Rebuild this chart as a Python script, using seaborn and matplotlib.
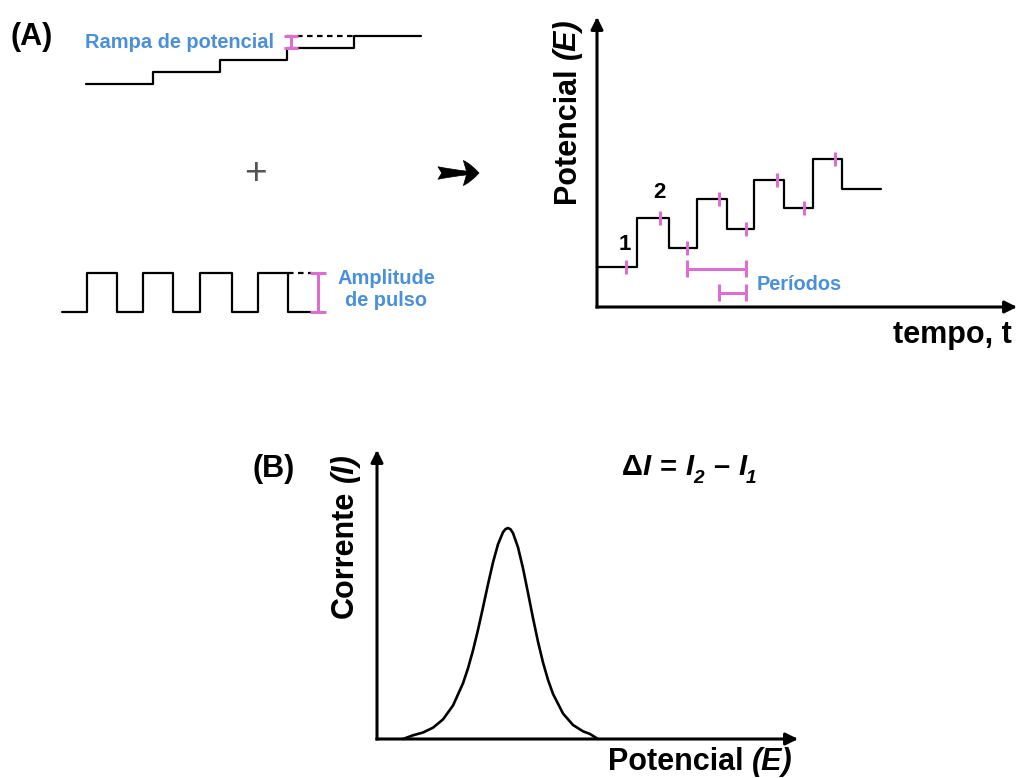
import matplotlib
matplotlib.use("Agg")
import matplotlib.pyplot as plt
import seaborn as sns
import pandas as pd

# ---------------------------------------------------------------- data
# (A) staircase potential ramp: step edges and potential levels
ramp_t = [0, 1, 2, 3, 4, 5]
ramp_E = [0, 1, 2, 3, 4, 4]

# (A) square pulse train: edges and levels (0 = base, 1 = pulse)
pulse_t = [0, 2.5, 5.5, 8.1, 11.1, 13.8, 17.0, 19.6, 22.6, 25.0]
pulse_E = [0, 1, 0, 1, 0, 1, 0, 1, 0, 0]

# (A) resulting pulsed waveform
wave_t = [0, 4.0, 7.2, 10.0, 13.0, 15.7, 18.7, 21.6, 24.5, 28.4]
wave_E = [4.0, 8.9, 5.9, 10.8, 7.8, 12.7, 9.9, 14.8, 11.8, 11.8]

# current sampling instants on the waveform
sample_t = [2.9, 6.3, 9.0, 12.2, 14.9, 18.0, 20.7, 23.8]
sample_E = [4.0, 8.9, 5.9, 10.8, 7.8, 12.7, 9.9, 14.8]
sample_labels = ["1", "2"]

# period brackets (start, end) and their height
period_long = (9.0, 14.9, 3.8)
period_short = (12.2, 14.9, 1.4)

# (B) differential current vs potential
curve_E = [2.6, 3.6, 4.6, 5.6, 6.6, 7.6, 8.6, 9.1, 9.6, 10.1, 10.6, 11.1,
           11.6, 12.1, 12.6, 12.85, 13.1, 13.35, 13.6, 14.1, 14.6, 15.1,
           15.6, 16.1, 16.6, 17.1, 17.6, 18.6, 19.6, 20.6, 21.3, 22.1]
curve_I = [0.0, 0.37, 0.65, 1.13, 1.96, 3.35, 5.57, 7.07, 8.86, 10.92,
           13.16, 15.47, 17.66, 19.47, 20.68, 20.99, 21.1, 20.97, 20.59,
           19.17, 17.07, 14.61, 12.09, 9.73, 7.65, 5.92, 4.51, 2.55, 1.40,
           0.77, 0.50, 0.0]

# ---------------------------------------------------------------- style
W, H = 1018, 778
BLUE = "#4a90d9"
MAGENTA = "#dc6ed2"
FONT = "Liberation Sans"
LW_AX = 2.2
LW_LINE = 1.6
LW_MARK = 2.2

sns.set_theme(style="white")
plt.rcParams["font.family"] = [FONT, "DejaVu Sans"]
plt.rcParams["text.color"] = "black"

fig = plt.figure(figsize=(W / 100, H / 100), dpi=100)
fig.patch.set_facecolor("white")


def px_axes(x0, y0, x1, y1):
    ax = fig.add_axes([x0 / W, 1 - y1 / H, (x1 - x0) / W, (y1 - y0) / H])
    ax.set_axis_off()
    ax.patch.set_alpha(0)
    return ax


def fpos(x, y):
    return x / W, 1 - y / H


def axis_arrows(ax):
    kw = dict(arrowstyle="-|>", lw=LW_AX, color="black", mutation_scale=18,
              shrinkA=0, shrinkB=0, capstyle="projecting")
    ax.annotate("", xy=(1, 0), xytext=(0, 0), xycoords="axes fraction",
                arrowprops=kw, annotation_clip=False)
    ax.annotate("", xy=(0, 1), xytext=(0, 0), xycoords="axes fraction",
                arrowprops=kw, annotation_clip=False)


def step_line(ax, t, e, **kw):
    df = pd.DataFrame({"t": t, "E": e})
    sns.lineplot(data=df, x="t", y="E", ax=ax, estimator=None, sort=False,
                 drawstyle="steps-post", color="black", lw=LW_LINE,
                 clip_on=False, **kw)


def ibar(ax, x, y0, y1, cap, horizontal=False):
    if horizontal:
        ax.hlines(y0, x, y1, color=MAGENTA, lw=LW_MARK, clip_on=False)
        ax.vlines([x, y1], y0 - cap, y0 + cap, color=MAGENTA, lw=LW_MARK,
                  clip_on=False)
    else:
        ax.vlines(x, y0, y1, color=MAGENTA, lw=LW_MARK, clip_on=False)
        ax.hlines([y0, y1], x - cap, x + cap, color=MAGENTA, lw=LW_MARK,
                  clip_on=False)


renderer = fig.canvas.get_renderer()


def text_runs(x, y, parts, size, rotation=0):
    """Draw consecutive text pieces of mixed style on one baseline."""
    for s, style, scale, drop, gap in parts:
        if rotation == 0:
            pos = fpos(x, y + drop)
        else:
            pos = fpos(x + drop, y)
        t = fig.text(*pos, s, fontsize=size * scale, fontweight="bold",
                     fontstyle=style, family=FONT, ha="left", va="baseline",
                     rotation=rotation, rotation_mode="anchor",
                     color="black")
        bb = t.get_window_extent(renderer)
        adv = (bb.width if rotation == 0 else bb.height) + gap * size / 0.72
        if rotation == 0:
            x += adv
        else:
            y -= adv


# ---------------------------------------------------------------- (A) ramp
ax_r = px_axes(86, 24, 421, 96)
ax_r.set_xlim(0, 5)
ax_r.set_ylim(-1, 5)
step_line(ax_r, ramp_t, ramp_E)
ax_r.plot([ramp_t[3], ramp_t[4]], [ramp_E[4], ramp_E[4]], color="black",
          lw=LW_LINE, ls=(0, (2.5, 2)), clip_on=False)
ibar(ax_r, 3.06, ramp_E[3], ramp_E[4], 0.1)

# ---------------------------------------------------------------- (A) pulses
ax_p = px_axes(62, 253.5, 332, 331.5)
ax_p.set_xlim(0, 27)
ax_p.set_ylim(-0.5, 1.5)
step_line(ax_p, pulse_t, pulse_E)
ax_p.plot([pulse_t[-2], pulse_t[-1]], [1, 1], color="black", lw=LW_LINE,
          ls=(0, (2.5, 2)), clip_on=False)
ibar(ax_p, 25.6, 0, 1, 0.8)

# ---------------------------------------------------------------- (A) waveform
ax_w = px_axes(597, 17, 1017, 307)
ax_w.set_xlim(0, 42)
ax_w.set_ylim(0, 29)
axis_arrows(ax_w)
step_line(ax_w, wave_t, wave_E)
ax_w.vlines(sample_t, [e - 0.7 for e in sample_E],
            [e + 0.7 for e in sample_E], color=MAGENTA, lw=LW_MARK,
            clip_on=False)
for lab, (tx, ty) in zip(sample_labels, [(2.8, 6.2), (6.2, 11.4)]):
    ax_w.text(tx, ty, lab, fontsize=16, fontweight="bold", ha="center",
              va="center", family=FONT, color="black")
for t0, t1, y in (period_long, period_short):
    ibar(ax_w, t0, y, t1, 0.85, horizontal=True)

# ---------------------------------------------------------------- (B) curve
ax_b = px_axes(377, 450, 798, 739)
ax_b.set_xlim(0, 42.1)
ax_b.set_ylim(0, 28.9)
axis_arrows(ax_b)
sns.lineplot(x=curve_E, y=curve_I, ax=ax_b, estimator=None, sort=False,
             color="black", lw=1.9, clip_on=False)

# ---------------------------------------------------------------- symbols
fig.text(*fpos(255, 174), "+", fontsize=28, color="#555555", ha="center",
         va="center", family=FONT)
fig.patches.append(matplotlib.patches.FancyArrowPatch(
    posA=(438, H - 173), posB=(479, H - 173), transform=None,
    arrowstyle="fancy,head_length=0.75,head_width=1.2,tail_width=0.6",
    mutation_scale=15, fc="black", ec="black", lw=0.5, shrinkA=0, shrinkB=0))

# ---------------------------------------------------------------- texts
fig.text(*fpos(11, 37), "(A)", fontsize=22, fontweight="bold", ha="left",
         va="center", family=FONT)
fig.text(*fpos(252, 469), "(B)", fontsize=22, fontweight="bold", ha="left",
         va="center", family=FONT)

fig.text(*fpos(274, 42), "Rampa de potencial", fontsize=14.4,
         fontweight="bold", color=BLUE, ha="right", va="center", family=FONT)
fig.text(*fpos(386, 290), "Amplitude\nde pulso", fontsize=14.4,
         fontweight="bold", color=BLUE, ha="center", va="center",
         linespacing=1.2, family=FONT)
fig.text(*fpos(757, 285), "Períodos", fontsize=14.4, fontweight="bold",
         color=BLUE, ha="left", va="center", family=FONT)

fig.text(*fpos(1012, 343), "tempo, t", fontsize=22, fontweight="bold",
         ha="right", va="baseline", family=FONT)

text_runs(575, 203, [("Potencial", "normal", 1, 0, 0.278),
                     ("(E)", "italic", 1, 0, 0)], 22, rotation=90)
text_runs(353, 618, [("Corrente", "normal", 1, 0, 0.278),
                     ("(I)", "italic", 1, 0, 0)], 22, rotation=90)
text_runs(608, 770, [("Potencial", "normal", 1, 0, 0.278),
                     ("(E)", "italic", 1, 0, 0)], 22)
text_runs(622, 475, [("Δ", "normal", 1, 0, 0),
                     ("I", "italic", 1, 0, 0.3),
                     ("=", "normal", 1, 0, 0.3),
                     ("I", "italic", 1, 0, 0),
                     ("2", "italic", 0.65, 8, 0.3),
                     ("–", "normal", 1, 0, 0.3),
                     ("I", "italic", 1, 0, 0),
                     ("1", "italic", 0.65, 8, 0)], 21)

fig.savefig("out.png", dpi=100, facecolor="white")
